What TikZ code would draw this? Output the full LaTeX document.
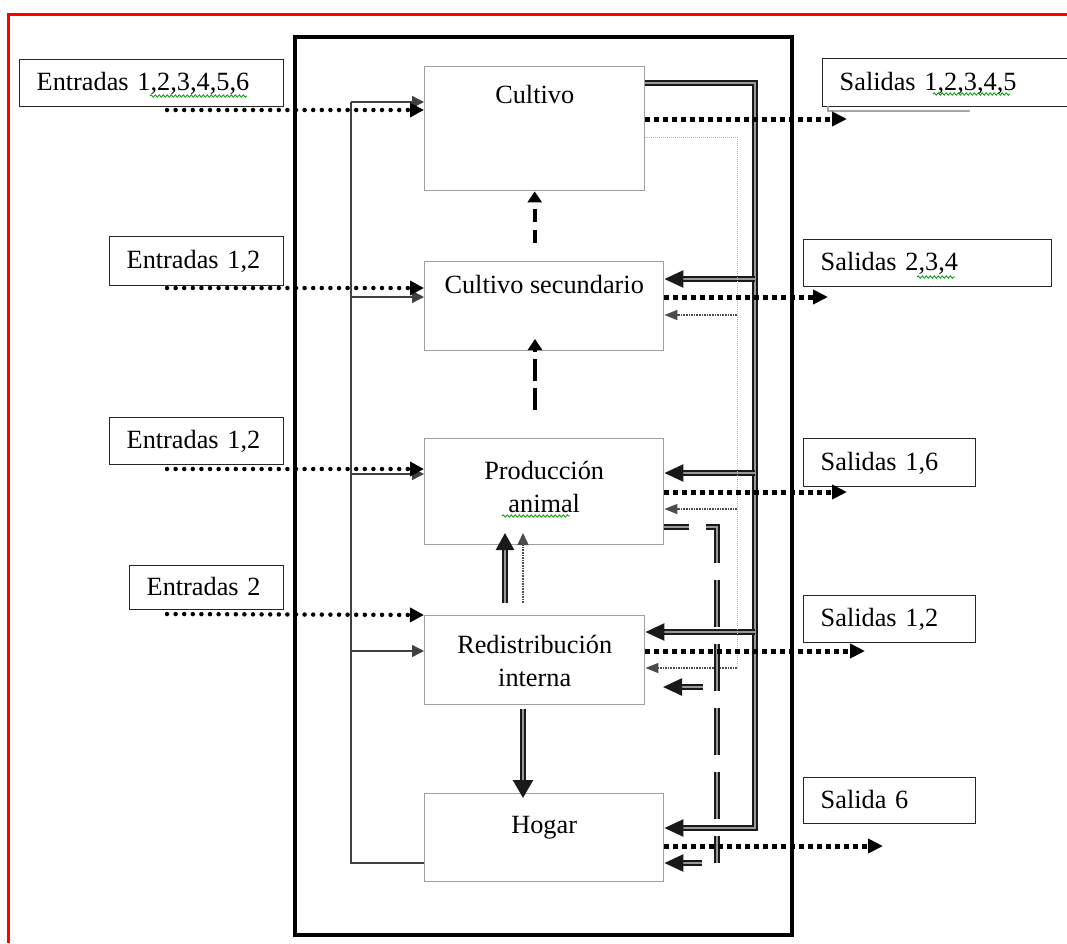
\documentclass[tikz,border=0pt]{standalone}
\usepackage{fontspec}
\setmainfont{Liberation Serif}
\usetikzlibrary{arrows.meta,positioning,decorations.pathmorphing}

\tikzset{
  blk/.style={draw=gray!75,line width=1.4pt,anchor=north west,inner sep=0pt},
  txt/.style={inner sep=0pt,align=center},
  iobox/.style={draw=black!85,line width=1.4pt,anchor=north west,inner xsep=17pt,inner ysep=0pt,
    align=left,text height=19pt,text depth=4pt},
  indot/.style={line width=4.5pt,line cap=round,dash pattern=on 0pt off 8.6pt,-{Triangle[length=14pt,width=14pt]}},
  outdot/.style={line width=5pt,dash pattern=on 5pt off 4pt,-{Triangle[length=15pt,width=14pt]}},
  dbl/.style={draw=black!90,line width=2.5pt,double=black!40,double distance=1.6pt},
  dbltip/.style={-{Triangle[length=19pt,width=17pt]}},
  fbline/.style={draw=black!75,line width=1.4pt},
  fbtip/.style={-{Triangle[length=12pt,width=12pt]}},
  grbus/.style={draw=gray!55,line width=1pt,densely dotted},
  grtip/.style={draw=black!70,line width=1.6pt,densely dotted,-{Triangle[length=13pt,width=10pt]}},
  ddash/.style={draw=black!90,line width=2.3pt,double=black!40,double distance=1.6pt,
    dash pattern=on 47pt off 17pt,dash phase=22pt},
  vdash/.style={line width=4pt,-{Triangle[length=11pt,width=14pt]}},
  squig/.style={green!60!black,line width=0.8pt,decorate,decoration={snake,amplitude=1.2pt,segment length=4pt}},
}

\begin{document}
\begin{tikzpicture}[x=1pt,y=-1pt,font=\fontsize{26.3pt}{33pt}\selectfont]
\useasboundingbox (0,0) rectangle (1067,943);
\draw[red,line width=3pt] (8,943) -- (8,14) -- (1067,14);

% blocks of the farm system
\node[blk,minimum width=220pt,minimum height=124pt] (cultivo) at (424,66) {};
\node[blk,minimum width=239pt,minimum height=89pt] (cultsec) at (424,261) {};
\node[blk,minimum width=239pt,minimum height=106pt] (prodani) at (424,438) {};
\node[blk,minimum width=220pt,minimum height=89pt] (redis) at (424,615) {};
\node[blk,minimum width=239pt,minimum height=88pt] (hogar) at (424,793) {};
\node[txt,below=37pt of cultivo.north,anchor=base] (cultivo-t) {Cultivo};
\node[txt,below=32pt of cultsec.north,anchor=base] (cultsec-t) {Cultivo secundario};
\node[txt,below=23pt of prodani.north] (prodani-t) {Producción\\animal};
\node[txt,below=20pt of redis.north] (redis-t) {Redistribución\\interna};
\node[txt,below=40pt of hogar.north,anchor=base] (hogar-t) {Hogar};

% inputs and outputs
\node[iobox,text width=230pt,minimum height=47pt] (ent1) at (19,59) {Entradas 1,2,3,4,5,6};
\node[iobox,text width=140pt,minimum height=49pt] (ent2) at (109,236) {Entradas 1,2};
\node[iobox,text width=140pt,minimum height=47pt] (ent3) at (109,417) {Entradas 1,2};
\node[iobox,text width=120pt,minimum height=44pt] (ent4) at (129,565) {Entradas 2};
\node[iobox,text width=226pt,minimum height=48pt] (sal1) at (822,58) {Salidas 1,2,3,4,5};
\node[iobox,text width=214pt,minimum height=47pt] (sal2) at (803,239) {Salidas 2,3,4};
\node[iobox,text width=138pt,minimum height=48pt] (sal3) at (803,438) {Salidas 1,6};
\node[iobox,text width=138pt,minimum height=47pt] (sal4) at (803,595) {Salidas 1,2};
\node[iobox,text width=138pt,minimum height=46pt] (sal5) at (803,777) {Salida 6};
\draw[gray!70,line width=1.5pt] (828,106) |- (970,111);
\draw[squig] (150,96) -- (247,96);
\draw[squig] (933,94) -- (1010,94);
\draw[squig] (917,277) -- (955,277);
\draw[squig] (502,516) -- (570,516);

% feedback from Hogar
\coordinate (fbtop) at (351,102);
\coordinate (fbbot) at (351,863);
\draw[fbline] (hogar.west |- fbbot) -- (fbbot) -- (fbtop);
\foreach \y/\n in {102/cultivo,297/cultsec,474/prodani,651/redis}
  \draw[fbline,fbtip] (351,\y) -- (\n.west |- 0,\y);

% double bus from Cultivo
\coordinate (dbtop) at (755,83);
\coordinate (dbbot) at (755,828);
\draw[dbl,dbltip] (cultivo.east |- dbtop) -- (dbtop) -- (dbbot) -- (hogar.east |- dbbot);
\foreach \y/\n in {279/cultsec,473/prodani,632/redis}
  \draw[dbl,dbltip] (755,\y) -- (\n.east |- 0,\y);

% dotted bus from Cultivo
\coordinate (gbtop) at (737,137);
\coordinate (gbbot) at (737,668);
\draw[grbus] (cultivo.east |- gbtop) -- (gbtop) -- (gbbot);
\foreach \y/\n in {315/cultsec,509/prodani,668/redis}
  \draw[grtip] (737,\y) -- (\n.east |- 0,\y);

% dashed bus from Produccion animal
\coordinate (ddc) at (717,527);
\coordinate (ddbot) at (717,863);
\draw[ddash] (prodani.east |- ddc) -- (ddc) -- (ddbot);
\coordinate (ddr) at (703,687);
\draw[dbl,dbltip] (ddr) -- ++(-40pt,0);
\draw[dbl,dbltip] (702,863) -- (hogar.east |- 0,863);

% between blocks
\draw[vdash,dash pattern=on 13pt off 8pt] ([yshift=18pt]cultsec.north -| cultivo.south) -- (cultivo.south);
\coordinate (v2) at (535,410);
\draw[vdash,dash pattern=on 22pt off 7pt] (v2) -- ++(0,-71);
\coordinate (rp) at (505,603);
\draw[dbl,-{Triangle[length=17pt,width=18pt]}] (rp) -- ++(0,-70);
\coordinate (rq) at (523,603);
\draw[grtip,-{Triangle[length=12pt,width=11pt]}] (rq) -- ++(0,-70);
\coordinate (rh) at (523,709);
\draw[dbl,-{Triangle[length=18pt,width=20pt]}] (rh) -- ++(0,89);

% entries and exits
\foreach \y/\n [count=\i] in {110/cultivo,288/cultsec,469/prodani} {
  \coordinate (in\i) at (167,\y);
  \draw[indot] (in\i) -- (\n.west |- in\i);
}
\coordinate (in4) at (167,614);
\draw[indot] (in4) -- (redis.north west);
\foreach \y/\x/\n [count=\i] in {119/847/cultivo,297/828/cultsec,492/847/prodani,651/865/redis,846/883/hogar} {
  \coordinate (out\i) at (\x,\y);
  \draw[outdot] (\n.east |- out\i) -- (out\i);
}

% system boundary
\draw[line width=3.5pt] (295,37) rectangle (792,935);
\end{tikzpicture}
\end{document}
